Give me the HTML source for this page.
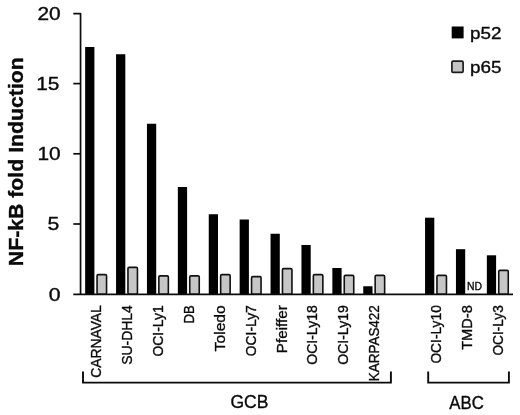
<!DOCTYPE html>
<html lang="en"><head><meta charset="utf-8"><title>NF-kB fold Induction</title>
<style>html,body{margin:0;padding:0;background:#fff}svg{display:block;filter:blur(0.35px)}text{font-family:'Liberation Sans', sans-serif;fill:#0a0a0a;stroke:#0a0a0a;stroke-width:0.35px}</style>
</head><body>
<svg width="520" height="415" viewBox="0 0 520 415">
<rect width="520" height="415" fill="#ffffff"/>
<g fill="#000000">
<rect x="85.15" y="47.00" width="9.25" height="247.20"/>
<rect x="116.05" y="54.25" width="9.25" height="239.95"/>
<rect x="146.95" y="123.75" width="9.25" height="170.45"/>
<rect x="177.85" y="187.00" width="9.25" height="107.20"/>
<rect x="208.75" y="214.25" width="9.25" height="79.95"/>
<rect x="239.65" y="219.50" width="9.25" height="74.70"/>
<rect x="270.55" y="233.75" width="9.25" height="60.45"/>
<rect x="301.45" y="245.00" width="9.25" height="49.20"/>
<rect x="332.35" y="268.00" width="9.25" height="26.20"/>
<rect x="363.25" y="286.25" width="9.25" height="7.95"/>
<rect x="425.05" y="217.70" width="9.25" height="76.50"/>
<rect x="455.95" y="249.20" width="9.25" height="45.00"/>
<rect x="486.85" y="255.30" width="9.25" height="38.90"/>
</g>
<g fill="#c6c6c6" stroke="#111111" stroke-width="1.6">
<rect x="97.05" y="274.65" width="9.5" height="19.55" rx="1.2"/>
<rect x="127.95" y="267.40" width="9.5" height="26.80" rx="1.2"/>
<rect x="158.85" y="275.90" width="9.5" height="18.30" rx="1.2"/>
<rect x="189.75" y="275.90" width="9.5" height="18.30" rx="1.2"/>
<rect x="220.65" y="274.65" width="9.5" height="19.55" rx="1.2"/>
<rect x="251.55" y="276.65" width="9.5" height="17.55" rx="1.2"/>
<rect x="282.45" y="268.65" width="9.5" height="25.55" rx="1.2"/>
<rect x="313.35" y="274.65" width="9.5" height="19.55" rx="1.2"/>
<rect x="344.25" y="275.40" width="9.5" height="18.80" rx="1.2"/>
<rect x="375.15" y="275.40" width="9.5" height="18.80" rx="1.2"/>
<rect x="436.95" y="275.40" width="9.5" height="18.80" rx="1.2"/>
<rect x="498.75" y="270.40" width="9.5" height="23.80" rx="1.2"/>
</g>
<g stroke="#0c0c0c" stroke-width="1.7" fill="none" stroke-linejoin="round">
<path d="M73.3 13.6H80.55V294.2"/>
<path d="M73.3 294.35H513" stroke-width="1.75"/>
<path d="M73.3 83.60H80.6"/>
<path d="M73.3 153.80H80.6"/>
<path d="M73.3 224.00H80.6"/>
</g>
<g font-size="18.8" text-anchor="end">
<text x="60.6" y="19.60" textLength="23.2" lengthAdjust="spacingAndGlyphs">20</text>
<text x="59.4" y="89.80" textLength="23.2" lengthAdjust="spacingAndGlyphs">15</text>
<text x="60.6" y="160.05" textLength="23.2" lengthAdjust="spacingAndGlyphs">10</text>
<text x="59.4" y="230.30" textLength="11.8" lengthAdjust="spacingAndGlyphs">5</text>
<text x="60.6" y="300.50" textLength="11.8" lengthAdjust="spacingAndGlyphs">0</text>
</g>
<text transform="translate(23 161.7) rotate(-90)" font-size="20" font-weight="bold" text-anchor="middle" textLength="209" lengthAdjust="spacingAndGlyphs">NF-kB fold Induction</text>
<g font-size="14.9" text-anchor="end">
<text transform="translate(101.35 305.2) rotate(-90)" textLength="72.6" lengthAdjust="spacingAndGlyphs">CARNAVAL</text>
<text transform="translate(132.21 305.2) rotate(-90)" textLength="59.6" lengthAdjust="spacingAndGlyphs">SU-DHL4</text>
<text transform="translate(163.07 305.2) rotate(-90)" textLength="51.4" lengthAdjust="spacingAndGlyphs">OCI-Ly1</text>
<text transform="translate(193.93 305.2) rotate(-90)" textLength="18.3" lengthAdjust="spacingAndGlyphs">DB</text>
<text transform="translate(224.79 305.2) rotate(-90)" textLength="46.2" lengthAdjust="spacingAndGlyphs">Toledo</text>
<text transform="translate(255.65 305.2) rotate(-90)" textLength="51.0" lengthAdjust="spacingAndGlyphs">OCI-Ly7</text>
<text transform="translate(286.51 305.2) rotate(-90)" textLength="48.1" lengthAdjust="spacingAndGlyphs">Pfeiffer</text>
<text transform="translate(317.37 305.2) rotate(-90)" textLength="59.6" lengthAdjust="spacingAndGlyphs">OCI-Ly18</text>
<text transform="translate(348.23 305.2) rotate(-90)" textLength="59.6" lengthAdjust="spacingAndGlyphs">OCI-Ly19</text>
<text transform="translate(379.09 305.2) rotate(-90)" textLength="76.0" lengthAdjust="spacingAndGlyphs">KARPAS422</text>
<text transform="translate(440.81 305.2) rotate(-90)" textLength="58.4" lengthAdjust="spacingAndGlyphs">OCI-Ly10</text>
<text transform="translate(471.67 305.2) rotate(-90)" textLength="44.6" lengthAdjust="spacingAndGlyphs">TMD-8</text>
<text transform="translate(502.53 305.2) rotate(-90)" textLength="50.4" lengthAdjust="spacingAndGlyphs">OCI-Ly3</text>
</g>
<text x="474.4" y="290.4" font-size="10.5" text-anchor="middle" textLength="15" lengthAdjust="spacingAndGlyphs">ND</text>
<g stroke="#0a0a0a" stroke-width="1.9" fill="none">
<path d="M83 371.5V382.6H390.9V371.5"/>
<path d="M428.2 371.5V382.6H508.9V371.5"/>
</g>
<g font-size="18.5" text-anchor="middle">
<text x="249.4" y="408.3" textLength="38" lengthAdjust="spacingAndGlyphs">GCB</text>
<text x="466.6" y="408.8" textLength="34.5" lengthAdjust="spacingAndGlyphs">ABC</text>
</g>
<rect x="451.7" y="26.5" width="11.9" height="11.9" fill="#000"/>
<rect x="451.9" y="61.2" width="11.2" height="11.2" rx="1.2" fill="#c4c4c4" stroke="#1c1c1c" stroke-width="1.7"/>
<g font-size="17">
<text x="470" y="38.5" textLength="31.5" lengthAdjust="spacingAndGlyphs">p52</text>
<text x="470" y="72.5" textLength="31.5" lengthAdjust="spacingAndGlyphs">p65</text>
</g>
</svg>
</body></html>
